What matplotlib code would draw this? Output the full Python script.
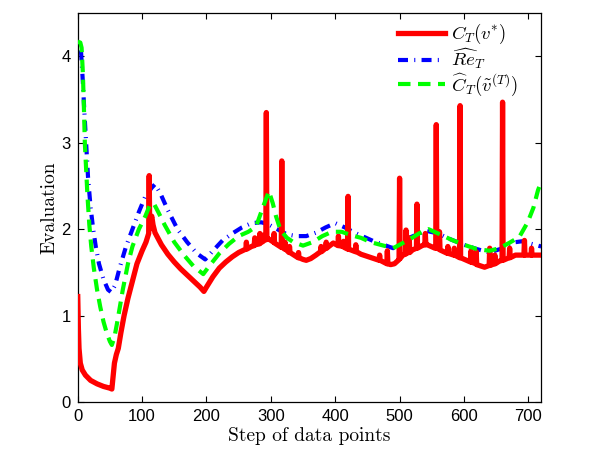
import matplotlib
matplotlib.use("Agg")
import matplotlib.pyplot as plt

plt.rcParams['mathtext.fontset'] = 'cm'

# ---- data ----
red_x = [0, 1, 2, 4, 7, 12, 20, 30, 40, 50, 53, 55, 57, 60, 63, 67, 72, 78, 85, 92, 100, 106,
         110.2, 111, 111.8, 113, 115, 117, 120, 130, 140, 150, 160, 170, 180, 190, 196, 200,
         210, 220, 230, 240, 250, 261.2, 262, 262.8, 270, 274.2, 275, 275.8, 282.2, 283, 283.8,
         286.2, 287, 287.8, 292.2, 293, 293.8, 296, 300, 304.2, 305, 305.8, 310, 316.2, 317,
         317.8, 321.2, 322, 322.8, 328.2, 329, 329.8, 340, 342.2, 343, 343.8, 350, 355, 362,
         370, 377.2, 378, 378.8, 385.2, 386, 386.8, 390, 397, 404.2, 405, 405.8, 412.2, 413,
         413.8, 419.2, 420, 420.8, 431.2, 432, 432.8, 440, 460, 468.2, 469, 469.8, 475, 480.2,
         481, 481.8, 486, 492, 498, 499.2, 500, 500.8, 505, 509.2, 510, 510.8, 514.2, 515,
         515.8, 520, 526.2, 527, 527.8, 535, 539.2, 540, 540.8, 543, 555, 556.2, 557, 557.8,
         561.2, 562, 562.8, 574.2, 575, 575.8, 584.2, 585, 585.8, 593.2, 594, 594.8, 610.2,
         611, 611.8, 615, 618.2, 619, 619.8, 632, 639.2, 640, 640.8, 647.2, 648, 648.8, 655,
         659.2, 660, 660.8, 670.2, 671, 671.8, 680, 693.2, 694, 694.8, 704.2, 705, 705.8, 720]
red_y = [1.22, 0.85, 0.62, 0.45, 0.37, 0.31, 0.25, 0.21, 0.18, 0.16, 0.15, 0.30, 0.45, 0.55,
         0.62, 0.80, 1.00, 1.20, 1.40, 1.60, 1.75, 1.85,
         1.95, 2.62, 2.00, 2.10, 2.15, 2.05, 1.96, 1.82, 1.71, 1.62, 1.54, 1.47, 1.40, 1.33,
         1.28, 1.33, 1.45, 1.55, 1.62, 1.68, 1.73, 1.77, 1.85, 1.77, 1.80, 1.81, 1.90, 1.82,
         1.83, 1.95, 1.84, 1.85, 1.93, 1.86, 1.88, 3.35, 1.88, 1.89, 1.87, 1.85, 1.95, 1.84,
         1.82, 1.79, 2.79, 1.79, 1.77, 1.85, 1.77, 1.73, 1.80, 1.73, 1.68, 1.67, 1.73, 1.67,
         1.65, 1.64, 1.66, 1.70, 1.74, 1.80, 1.74, 1.78, 1.85, 1.78, 1.80, 1.84, 1.81, 1.92,
         1.81, 1.80, 1.86, 1.79, 1.77, 2.38, 1.77, 1.74, 1.82, 1.74, 1.71, 1.66, 1.64, 1.70,
         1.64, 1.62, 1.60, 1.75, 1.60, 1.59, 1.60, 1.64, 1.65, 2.59, 1.66, 1.70, 1.71, 1.99,
         1.72, 1.73, 1.90, 1.73, 1.76, 1.78, 2.29, 1.78, 1.81, 1.82, 1.95, 1.82, 1.82, 1.78,
         1.78, 3.21, 1.78, 1.77, 1.97, 1.76, 1.72, 1.80, 1.72, 1.70, 1.78, 1.70, 1.67, 3.43,
         1.67, 1.62, 1.75, 1.62, 1.61, 1.60, 1.74, 1.59, 1.56, 1.58, 1.78, 1.58, 1.60, 1.70,
         1.60, 1.63, 1.64, 3.47, 1.64, 1.67, 1.78, 1.67, 1.70, 1.70, 1.87, 1.70, 1.70, 1.78,
         1.70, 1.70]

blue_x = [5, 8, 10, 13, 16, 20, 24, 28, 33, 40, 47, 52, 58, 65, 75, 85, 95, 105, 115, 120, 128,
          140, 155, 170, 185, 198, 210, 225, 240, 255, 270, 285, 295, 310, 325, 340, 355, 370,
          385, 400, 415, 430, 445, 460, 475, 490, 500, 515, 530, 542, 560, 580, 600, 620, 640,
          660, 680, 690, 705, 720]
blue_y = [4.07, 3.70, 3.40, 3.00, 2.60, 2.25, 2.00, 1.80, 1.60, 1.42, 1.30, 1.27, 1.35, 1.55,
          1.80, 2.00, 2.20, 2.38, 2.48, 2.52, 2.42, 2.22, 2.00, 1.85, 1.72, 1.65, 1.75, 1.87,
          1.95, 2.02, 2.07, 2.08, 2.06, 2.00, 1.94, 1.92, 1.92, 1.96, 2.02, 2.07, 2.02, 1.96,
          1.91, 1.86, 1.82, 1.78, 1.85, 1.90, 1.95, 1.98, 1.95, 1.88, 1.82, 1.77, 1.73, 1.78,
          1.85, 1.86, 1.83, 1.80]

green_x = [0, 4, 6, 8, 10, 11, 13, 15, 18, 21, 25, 30, 35, 40, 45, 50, 53, 57, 62, 70, 78, 85,
           95, 105, 112, 118, 125, 135, 150, 165, 180, 195, 205, 220, 235, 250, 265, 277, 288,
           297, 303, 308, 315, 325, 335, 350, 365, 380, 395, 410, 425, 440, 455, 470, 490, 500,
           515, 530, 545, 560, 580, 600, 620, 640, 655, 670, 686, 699, 708, 715, 720]
green_y = [4.17, 4.16, 4.10, 3.80, 3.30, 3.00, 2.70, 2.40, 2.05, 1.80, 1.55, 1.30, 1.10, 0.93,
           0.80, 0.70, 0.66, 0.75, 0.95, 1.30, 1.60, 1.80, 2.00, 2.15, 2.28, 2.30, 2.20, 2.05,
           1.85, 1.70, 1.57, 1.48, 1.58, 1.72, 1.83, 1.92, 1.97, 2.03, 2.26, 2.44, 2.30, 2.15,
           1.99, 1.90, 1.85, 1.81, 1.85, 1.92, 1.97, 1.97, 1.93, 1.90, 1.85, 1.82, 1.78, 1.82,
           1.88, 1.95, 2.00, 1.95, 1.88, 1.82, 1.77, 1.75, 1.78, 1.84, 1.91, 2.08, 2.25, 2.45,
           2.55]

labels = [r'$C_T(v^{*})$', r'$\widehat{Re}_T$', r'$\widehat{C}_T(\tilde{v}^{(T)})$']
x_ticks = [0, 100, 200, 300, 400, 500, 600, 700]
y_ticks = [0, 1, 2, 3, 4]

fig = plt.figure(figsize=(5.98, 4.55), dpi=100)
ax = fig.add_axes([0.130, 0.1165, 0.775, 0.8545])

ax.plot(red_x, red_y, color='#ff0000', lw=3.8, label=labels[0], zorder=3)
ax.plot(blue_x, blue_y, color='#0000ff', lw=3.0, dashes=(2.4, 1.5, 0.25, 1.5),
        label=labels[1], zorder=2)
ax.plot(green_x, green_y, color='#00ff00', lw=3.0, dashes=(3.0, 1.8),
        label=labels[2], zorder=4)

ax.set_xlim(0, 720)
ax.set_ylim(0, 4.5)
ax.set_xticks(x_ticks)
ax.set_yticks(y_ticks)
ax.tick_params(direction='in', top=True, right=True, length=4, width=0.8,
               labelsize=12, pad=5)
for lab in ax.get_xticklabels() + ax.get_yticklabels():
    lab.set_fontfamily('Liberation Sans')
for s in ax.spines.values():
    s.set_linewidth(0.9)

ax.set_xlabel('Step of data points', fontfamily='cmr10', fontsize=14, labelpad=2)
ax.set_ylabel('Evaluation', fontfamily='cmr10', fontsize=14, labelpad=2)

leg = ax.legend(loc='upper left', bbox_to_anchor=(0.691, 0.977), frameon=False,
                fontsize=13.5, handlelength=2.5, handletextpad=0.32, labelspacing=0.0,
                borderaxespad=0.0, borderpad=0.0)

fig.savefig('out.png', dpi=100)
